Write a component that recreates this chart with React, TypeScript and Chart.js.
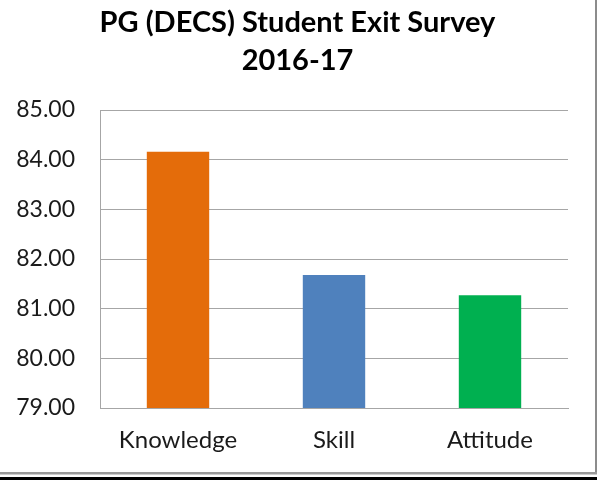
import React, { useEffect, useRef } from "react";
import { Chart, registerables } from "chart.js";

Chart.register(...registerables);

const categories = ["Knowledge", "Skill", "Attitude"];
const scores = [84.16, 81.68, 81.27];
const barColors = ["#E46C0A", "#4F81BD", "#00B050"];
const titleLines = ["PG (DECS) Student Exit Survey", "2016-17"];
const yMin = 79;
const yMax = 85;
const yStep = 1;

const FONT = "Lato, 'Open Sans', sans-serif";

const framePlugin = {
  id: "frame",
  beforeDraw(chart: any) {
    const ctx = chart.ctx;
    ctx.save();
    ctx.fillStyle = "#ffffff";
    ctx.fillRect(0, 0, chart.width, chart.height);
    ctx.restore();
  },
  afterDraw(chart: any) {
    const ctx = chart.ctx;
    const w = chart.width;
    const h = chart.height;
    ctx.save();
    // centred title over the whole canvas
    ctx.fillStyle = "#000000";
    ctx.font = `bold 29px ${FONT}`;
    ctx.textAlign = "center";
    ctx.textBaseline = "middle";
    titleLines.forEach((line, i) => {
      ctx.fillText(line, w / 2 - 1, 23 + i * 38);
    });
    // frame
    ctx.fillStyle = "#8c8c8c";
    ctx.fillRect(w - 2, 0, 2, h - 6);
    ctx.fillStyle = "#999999";
    ctx.fillRect(0, h - 8, w, 2.5);
    ctx.fillStyle = "#000000";
    ctx.fillRect(0, h - 3, w, 3);
    ctx.restore();
  },
};

export default function App() {
  const ref = useRef<HTMLCanvasElement | null>(null);

  useEffect(() => {
    if (!ref.current) return;
    const chart = new Chart(ref.current, {
      type: "bar",
      data: {
        labels: categories,
        datasets: [
          {
            data: scores,
            backgroundColor: barColors,
            borderWidth: 0,
            categoryPercentage: 1,
            barPercentage: 0.4,
          },
        ],
      },
      options: {
        responsive: false,
        animation: false,
        devicePixelRatio: 1,
        layout: { padding: { left: 0, right: 29, top: 110, bottom: 0 } },
        plugins: {
          legend: { display: false },
          tooltip: { enabled: false },
          title: { display: false },
        },
        scales: {
          x: {
            grid: { display: false, drawTicks: false },
            border: { display: true, color: "#a6a6a6", width: 1 },
            ticks: {
              color: "#1a1a1a",
              font: { family: FONT, size: 24 },
              padding: 18,
            },
            afterFit(scale: any) {
              scale.height = 72;
            },
          },
          y: {
            min: yMin,
            max: yMax,
            grid: { color: "#a6a6a6", lineWidth: 1, drawTicks: false },
            border: { display: true, color: "#a6a6a6", width: 1 },
            ticks: {
              stepSize: yStep,
              color: "#1a1a1a",
              font: { family: FONT, size: 23 },
              padding: 25,
              callback: (v: any) => Number(v).toFixed(2),
            },
            afterFit(scale: any) {
              scale.width = 100;
            },
          },
        },
      },
      plugins: [framePlugin],
    });
    return () => chart.destroy();
  }, []);

  return (
    <div style={{ position: "fixed", left: 0, top: 0, width: 597, height: 480, background: "#fff" }}>
      <canvas ref={ref} width={597} height={480} style={{ width: 597, height: 480, display: "block" }} />
    </div>
  );
}
